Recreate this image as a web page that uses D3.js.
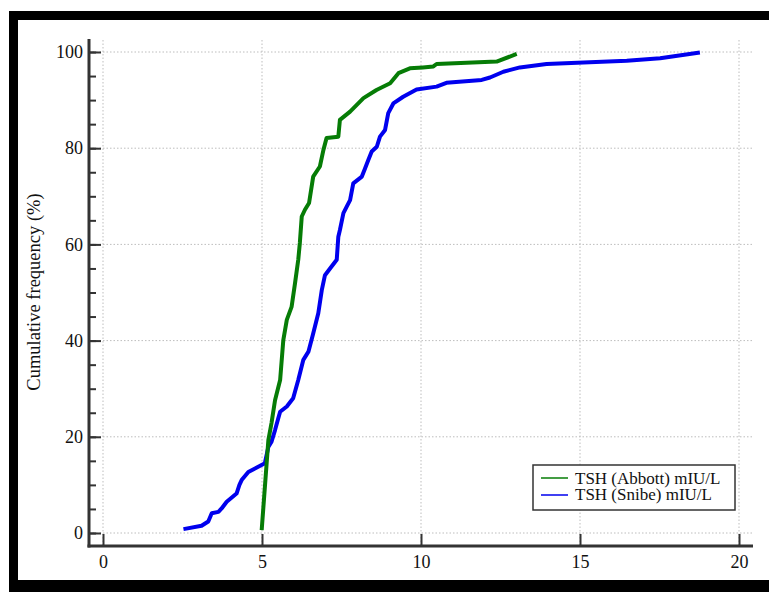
<!DOCTYPE html>
<html>
<head>
<meta charset="utf-8">
<script src="https://cdn.jsdelivr.net/npm/d3@7"></script>
<style>
  html, body { margin: 0; padding: 0; background: #fff; }
  svg { display: block; }
  text { font-family: "Liberation Serif", "DejaVu Serif", serif; fill: #111; }
</style>
</head>
<body>
<svg id="chart" width="769" height="592"></svg>
<script>
// ---- data ----
const abbottX = [4.99,5.2,5.3,5.41,5.57,5.67,5.78,5.93,6.04,6.14,6.19,6.25,6.35,6.48,6.61,6.82,6.93,7.03,7.4,7.45,7.77,8.19,8.6,9.03,9.29,9.65,10.06,10.39,10.49,12.38,13.01];
const abbottP = [0.6,19.3,22.9,27.6,31.8,40.1,44.3,47,52,56.8,60.3,65.8,67.2,68.6,74.1,76.2,79.6,82.1,82.4,85.9,87.6,90.4,92.1,93.5,95.6,96.6,96.8,97.0,97.5,98.0,99.6];
const snibeX = [2.53,3.1,3.31,3.42,3.63,3.73,3.89,4.2,4.29,4.36,4.57,5.09,5.2,5.3,5.41,5.51,5.57,5.78,5.98,6.14,6.3,6.46,6.61,6.77,6.88,6.98,7.14,7.35,7.4,7.45,7.56,7.66,7.77,7.87,8.14,8.24,8.34,8.45,8.61,8.71,8.87,8.97,9.13,9.44,9.86,10.49,10.8,11.91,12.17,12.59,13.11,13.95,16.47,17.52,18.77];
const snibeP = [0.8,1.5,2.4,4.1,4.4,5.1,6.5,8.2,10,11,12.7,14.5,17.9,19,21.4,23.8,25.2,26.3,28,31.8,36,37.7,41.5,45.7,50.5,53.6,55,56.8,61.6,63,66.5,67.8,69.2,72.7,74.1,75.8,77.5,79.3,80.3,82.4,83.8,87.3,89.3,90.7,92.2,92.8,93.6,94.2,94.7,95.9,96.8,97.5,98.2,98.7,99.9];
const xTicks = [0,5,10,15,20];
const yTicks = [0,20,40,60,80,100];
const yMinorTicks = d3.range(0,101,5);
const seriesNames = ["TSH (Abbott) mIU/L","TSH (Snibe) mIU/L"];
const seriesColors = ["#067c06","#0000ee"];
const yTitle = "Cumulative frequency (%)";

// ---- layout ----
const svg = d3.select("#chart");
const x = d3.scaleLinear().domain([0,20]).range([103,739]);
const y = d3.scaleLinear().domain([0,100]).range([533,52]);
const axisX = 89, axisY = 546, plotRight = 753, plotTop = 40;

// frame
svg.append("rect").attr("x",9).attr("y",11).attr("width",760).attr("height",581).attr("fill","#000");
svg.append("rect").attr("x",18).attr("y",20).attr("width",751).attr("height",560).attr("fill","#fff");

// grid
const grid = svg.append("g").attr("stroke","#bdbdbd").attr("stroke-width",1).attr("stroke-dasharray","1.5,2");
grid.selectAll("line.h").data(yTicks).join("line")
  .attr("x1",axisX).attr("x2",plotRight).attr("y1",d=>y(d)).attr("y2",d=>y(d));
grid.selectAll("line.v").data(xTicks).join("line")
  .attr("x1",d=>x(d)).attr("x2",d=>x(d)).attr("y1",plotTop).attr("y2",axisY);

// axes
const axCol = "#333";
const gy = svg.append("g").attr("transform",`translate(${axisX},0)`)
  .call(d3.axisLeft(y).tickValues(yTicks).tickSizeInner(-12).tickSizeOuter(0).tickPadding(6).tickFormat(d3.format("d")));
const gyMinor = svg.append("g").attr("transform",`translate(${axisX},0)`)
  .call(d3.axisLeft(y).tickValues(yMinorTicks).tickSizeInner(-7).tickSizeOuter(0).tickFormat(""));
const gx = svg.append("g").attr("transform",`translate(0,${axisY})`)
  .call(d3.axisBottom(x).tickValues(xTicks).tickSizeInner(-12).tickSizeOuter(0).tickPadding(9).tickFormat(d3.format("d")));
[gy,gyMinor,gx].forEach(g=>{
  g.select(".domain").remove();
  g.selectAll(".tick line").attr("stroke",axCol).attr("stroke-width",2);
  g.selectAll(".tick text").attr("font-family","Liberation Serif, serif").attr("font-size",18).attr("fill","#111");
});
svg.append("line").attr("x1",axisX).attr("x2",axisX).attr("y1",39).attr("y2",axisY+1.5)
  .attr("stroke",axCol).attr("stroke-width",3);
svg.append("line").attr("x1",axisX-1.5).attr("x2",plotRight).attr("y1",axisY).attr("y2",axisY)
  .attr("stroke",axCol).attr("stroke-width",3);

// y title
svg.append("text").attr("transform","translate(40,292) rotate(-90)")
  .attr("text-anchor","middle").attr("font-size",18.5).text(yTitle);

// lines
const line = d3.line().x(d=>x(d[0])).y(d=>y(d[1]));
const series = [d3.zip(abbottX,abbottP), d3.zip(snibeX,snibeP)];
svg.append("g").selectAll("path").data([series[1],series[0]]).join("path")
  .attr("d",line).attr("fill","none")
  .attr("stroke",(d,i)=>seriesColors[1-i]).attr("stroke-width",4)
  .attr("stroke-linejoin","round").attr("stroke-linecap","butt");

// legend
const lg = svg.append("g");
lg.append("rect").attr("x",533).attr("y",465).attr("width",202).attr("height",45)
  .attr("fill","#fff").attr("stroke","#333").attr("stroke-width",1.5);
seriesNames.forEach((name,i)=>{
  const cy = 478 + i*17;
  lg.append("line").attr("x1",541).attr("x2",568).attr("y1",cy).attr("y2",cy)
    .attr("stroke",seriesColors[i]).attr("stroke-width",1.5);
  lg.append("text").attr("x",575).attr("y",483.5+i*16.5).attr("font-size",17).text(name);
});
</script>
</body>
</html>
